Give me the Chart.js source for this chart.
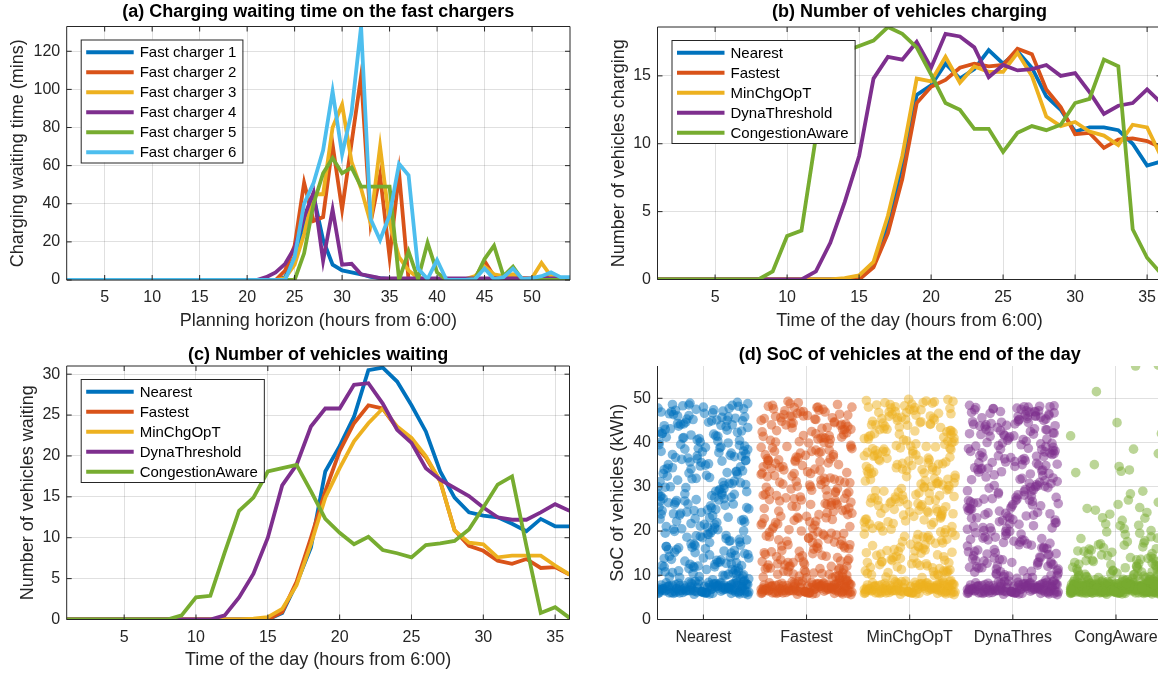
<!DOCTYPE html>
<html>
<head>
<meta charset="utf-8">
<script src="https://cdn.jsdelivr.net/npm/chart.js@4.4.1/dist/chart.umd.min.js"></script>
<style>
html, body { margin: 0; padding: 0; background: #fff; overflow: hidden; width: 1158px; height: 675px; }
.panel { position: absolute; }
</style>
</head>
<body>
<div class="panel" style="left:0;top:0"><canvas id="chartA" width="580" height="335"></canvas></div>
<div class="panel" style="left:580px;top:0"><canvas id="chartB" width="600" height="335"></canvas></div>
<div class="panel" style="left:0;top:335px"><canvas id="chartC" width="580" height="340"></canvas></div>
<div class="panel" style="left:580px;top:335px"><canvas id="chartD" width="600" height="340"></canvas></div>
<script>
// ---- data ----
const horizon = [1,2,3,4,5,6,7,8,9,10,11,12,13,14,15,16,17,18,19,20,21,22,23,24,25,26,27,28,29,30,31,32,33,34,35,36,37,38,39,40,41,42,43,44,45,46,47,48,49,50,51,52,53,54];
const dayHours = [1,2,3,4,5,6,7,8,9,10,11,12,13,14,15,16,17,18,19,20,21,22,23,24,25,26,27,28,29,30,31,32,33,34,35,36];
const horizonTicks = [5,10,15,20,25,30,35,40,45,50];
const dayTicks = [5,10,15,20,25,30,35];

// (a) waiting time on each fast charger (mins)
const charger1 = [0,0,0,0,0,0,0,0,0,0,0,0,0,0,0,0,0,0,0,0,0,0,0,1.5,12,30,44,21,8,5,4,3,1.7,1,0.6,0.5,0.4,0.4,0.4,0.4,0.4,0.4,0.4,0.4,0.4,0.4,0.4,0.4,0.4,0.4,0.4,0.4,0.4,0.4];
const charger2 = [0,0,0,0,0,0,0,0,0,0,0,0,0,0,0,0,0,0,0,0,0,0,0,5,18,51,31,33,71,37,72,107,30,55,12,56,0,1,0.5,0.5,0.5,0.5,0.5,1,10,2,1,1,0.5,0.5,1,2,0,0];
const charger3 = [0,0,0,0,0,0,0,0,0,0,0,0,0,0,0,0,0,0,0,0,0,0,0,1,8,24,45,45,80,92,62,48,30,70,30,12,5,1,0,0,0,0,0.5,2,7,3,2,3,1,1,9,2,0.5,0];
const charger4 = [0,0,0,0,0,0,0,0,0,0,0,0,0,0,0,0,0,0,0,0,0,1.5,4,8.5,17,33,46,10,37,8,8.5,3,2,1,0.8,0.8,0.8,0.8,0.8,0.8,0.8,0.8,0.8,0.8,0.8,0.8,0.8,0.8,0.8,0.8,0.8,0.8,0.8,0.8];
const charger5 = [0,0,0,0,0,0,0,0,0,0,0,0,0,0,0,0,0,0,0,0,0,0,0,0,0,14,40,56,64,56,59,49,49,49,49,0,15,0.5,19.5,4,0,0,0,0.5,11,18,2,7,0,0,0,0,0,0];
const charger6 = [0,0,0,0,0,0,0,0,0,0,0,0,0,0,0,0,0,0,0,0,0,0,0,0,12,40,51,68,99,66,88,133,32,21,34,61,55,6,0.5,10.5,0,0,0,0.5,6,0.5,1.5,6,0.5,1,2,4,1.5,1.5];

// (b) vehicles charging
const chargingNearest = [0,0,0,0,0,0,0,0,0,0,0,0,0,0,0,1.0,4.0,8.5,13.6,14.3,15.9,14.8,15.5,16.9,15.9,16.8,15.6,13.5,12.5,10.9,11.2,11.2,11.0,10.0,8.4,8.7];
const chargingFastest = [0,0,0,0,0,0,0,0,0,0,0,0,0,0,0,0.9,3.4,7.4,13.0,14.2,14.7,15.6,15.9,15.7,15.8,17.0,16.6,14.0,12.7,10.7,10.8,9.7,10.3,10.4,10.2,9.7];
const chargingMinChg = [0,0,0,0,0,0,0,0,0,0,0,0,0,0.1,0.3,1.3,4.7,9.1,14.8,14.6,16.4,14.5,15.7,15.3,15.3,16.7,15.0,12.0,11.3,11.6,10.9,10.6,9.9,11.4,11.2,9.0];
const chargingDyna = [0,0,0,0,0,0,0,0,0,0,0,0.6,2.7,5.7,9.1,14.8,16.4,16.2,17.5,15.6,18.1,17.9,17.1,14.9,15.8,15.4,15.5,15.8,15.0,15.2,13.8,12.2,12.8,13.0,14.0,13.0];
const chargingCong = [0,0,0,0,0,0,0,0,0.6,3.2,3.6,10.5,15.5,16.8,17.2,17.6,18.6,18.1,17.1,15.1,13.0,12.5,11.1,11.1,9.4,10.8,11.3,11.0,11.4,13.0,13.3,16.2,15.7,3.7,1.6,0.4];

// (c) vehicles waiting
const waitingNearest = [0,0,0,0,0,0,0,0,0,0,0,0,0,0,0,0.8,4.4,8.8,18.1,21.2,24.8,30.5,30.8,29.1,26.2,23.0,18.1,14.9,13.1,12.7,12.5,11.7,10.8,12.3,11.4,11.4];
const waitingFastest = [0,0,0,0,0,0,0,0,0,0,0,0,0,0,0,0.9,4.6,10.0,15.7,20.6,24.0,26.2,25.8,23.4,21.8,19.8,16.9,10.9,9.0,8.4,7.2,6.8,7.4,6.3,6.4,5.5];
const waitingMinChg = [0,0,0,0,0,0,0,0,0,0,0,0,0,0.1,0.3,1.3,4.2,9.2,14.9,18.5,21.8,24.0,25.8,23.6,22.2,20.0,16.9,10.9,9.4,9.2,7.6,7.8,7.8,7.8,6.6,5.5];
const waitingDyna = [0,0,0,0,0,0,0,0,0,0,0,0.5,2.7,5.6,10.0,16.4,18.9,23.6,25.8,25.8,28.7,28.9,26.4,23.2,21.6,18.5,17.1,16.1,15.1,13.7,12.5,12.2,12.2,13.1,14.1,13.3];
const waitingCong = [0,0,0,0,0,0,0,0,0.5,2.7,2.9,8.2,13.3,14.9,18.1,18.5,18.9,15.7,12.3,10.6,9.2,10.1,8.5,8.1,7.6,9.1,9.3,9.6,11.0,13.7,16.5,17.5,9.0,0.8,1.5,0.2];

// (d) end-of-day SoC (kWh), one value per vehicle, spread sideways by jitter
const strategies = ['Nearest', 'Fastest', 'MinChgOpT', 'DynaThres', 'CongAware'];
const jitter = [
 -0.31,0.12,0.40,-0.05,0.27,-0.42,0.08,-0.19,0.35,-0.27,0.02,0.19,-0.37,0.31,-0.11,0.44,-0.23,0.06,0.24,-0.40,
 0.15,-0.08,0.38,-0.33,0.29,-0.15,0.01,0.42,-0.26,0.10,-0.44,0.21,-0.02,0.33,-0.35,0.17,-0.20,0.04,0.36,-0.12,
 -0.39,0.25,-0.06,0.14,-0.29,0.41,-0.17,0.07,0.30,-0.43,0.20,-0.10,0.37,-0.24,0.03,-0.34,0.26,-0.01,0.43,-0.21,
 0.09,-0.36,0.32,-0.13,0.22,-0.41,0.16,-0.04,0.39,-0.28,0.05,-0.18,0.28,-0.38,0.11,0.34,-0.25,0.00,0.23,-0.09,
 0.41,-0.30,0.18,-0.16,0.36,-0.03,0.13,-0.44,0.26,-0.22,0.07,0.44,-0.32,0.20,-0.07,0.30,-0.40,0.11,-0.14,0.37,
 -0.26,0.03,0.33,-0.37,0.14,-0.09,0.42,-0.19,0.24,-0.01,0.39,-0.42,0.06,-0.27,0.29,-0.12,0.17,-0.35,0.09,0.40,
 -0.17,0.27,-0.43,0.12,-0.06,0.35,-0.30,0.21,-0.14,0.01,0.38,-0.24,0.16,-0.39,0.31,-0.04,0.08,-0.33,0.43,-0.11,
 0.22,-0.28,0.05,0.34,-0.41,0.19,-0.08,0.40,-0.18,0.28,-0.36,0.13,-0.02,0.37,-0.23,0.10,-0.44,0.25,-0.13,0.32,
 -0.05,0.43,-0.34,0.18,-0.21,0.06,0.31,-0.40,0.15,-0.10,0.26,-0.29,0.39,-0.16,0.02,-0.38,0.35,-0.07,0.20,-0.25,
 0.36,-0.12,0.09,-0.43,0.24,-0.31,0.41,-0.03,0.17,-0.37,0.30,-0.20,0.04,0.38,-0.26,0.14,-0.08,0.27,-0.42,0.11];
const jitterB = [
 0.05,-0.38,0.27,-0.14,0.41,-0.22,0.10,-0.33,0.19,-0.03,0.36,-0.42,0.23,-0.09,0.32,-0.27,0.14,-0.18,0.43,-0.36,
 -0.12,0.30,-0.40,0.08,0.24,-0.29,0.39,-0.06,0.16,-0.44,0.28,-0.16,0.02,0.35,-0.24,0.12,-0.31,0.42,-0.02,0.21,
 0.38,-0.20,0.06,-0.35,0.31,-0.10,0.18,-0.41,0.26,0.00,-0.28,0.40,-0.15,0.11,-0.37,0.29,-0.07,0.22,-0.43,0.15,
 -0.25,0.13,0.44,-0.30,0.04,-0.17,0.34,-0.39,0.20,-0.08,0.37,-0.23,0.09,-0.34,0.25,-0.01,0.41,-0.13,0.17,-0.40,
 0.27,-0.05,-0.32,0.19,0.43,-0.26,0.07,-0.14,0.33,-0.38,0.12,0.40,-0.21,0.03,-0.42,0.24,-0.11,0.36,-0.29,0.08,
 -0.18,0.35,0.01,-0.41,0.22,-0.06,0.30,-0.33,0.15,0.42,-0.24,0.06,-0.37,0.28,-0.12,0.18,-0.44,0.33,-0.03,0.23,
 0.11,-0.27,0.39,-0.10,-0.36,0.25,-0.19,0.04,0.32,-0.43,0.20,-0.07,0.44,-0.30,0.14,-0.22,0.37,-0.15,0.02,-0.34];
const bandSoc = [
 6.1,7.4,6.6,8.0,5.9,7.1,6.8,7.7,6.3,7.9,6.0,7.2,6.5,8.2,6.9,6.2,7.6,5.8,7.0,6.7,
 7.8,6.4,7.3,6.0,8.1,6.6,7.5,6.2,6.9,7.9,5.9,7.0,6.3,7.7,6.8,8.3,6.1,7.2,6.5,7.4,
 6.9,7.6,6.2,7.1,5.9,8.0,6.4,7.3,6.7,6.0,7.8,6.5,7.0,8.2,6.1,7.5,6.8,6.3,7.9,6.6];
const bandSoc2 = [
 7.0,6.0,8.4,6.5,7.6,5.7,8.0,6.9,7.3,6.2,8.6,6.7,7.8,6.1,7.1,8.3,6.4,7.5,5.9,8.8,
 6.6,7.9,6.3,8.1,7.2,5.8,7.7,6.8,8.5,6.0,7.4,6.5,8.2,7.0,6.2,8.7,6.9,7.6,5.6,8.0,
 7.3,6.4,8.4,6.1,7.8,6.7,8.6,5.9,7.1,6.6,8.3,7.5,6.3,7.9,6.0,8.1,6.8,7.2,6.5,8.9];
const socNearest = [
 23.5,41.2,12.8,35.6,18.3,46.9,29.4,9.7,38.1,15.2,44.6,26.8,11.3,33.9,20.7,48.2,31.5,13.9,42.8,24.6,
 37.4,10.6,28.2,45.3,16.8,34.7,21.9,47.8,14.1,39.6,25.7,9.2,43.1,30.3,18.9,36.8,12.2,27.6,46.1,22.4,
 15.8,32.6,49.1,19.5,40.3,11.8,28.9,44.2,23.1,37.9,10.1,31.2,17.4,47.3,26.1,41.7,13.5,34.2,20.2,45.8,
 29.8,12.6,42.4,24.9,36.3,18.1,48.6,9.9,33.1,21.5,44.9,16.2,38.8,27.3,11.1,40.9,25.2,46.5,14.7,31.8,
 43.6,19.9,35.2,10.9,27.9,47.1,22.8,39.2,13.2,30.7,16.5,45.1,24.2,36.9,9.5,41.9,28.5,17.7,48.9,33.4,
 12.1,38.4,26.4,45.7,20.5,32.1,14.5,42.1,29.1,10.4,37.1,23.9,47.6,18.6,34.9,11.9,40.5,27.1,15.5,44.3,
 30.9,17.1,46.7,25.4,39.9,13.6,35.9,21.1,43.9,10.8,28.3,48.3,19.3,33.6,22.2,41.4,15.1,37.6,26.7,12.4];
const socNearest2 = [
 19.2,43.8,27.6,11.5,36.0,24.0,47.4,14.3,31.0,40.1,9.3,22.7,45.0,17.0,33.5,26.5,12.9,38.5,48.8,21.0,
 34.0,15.6,42.0,28.0,10.2,46.3,20.0,37.0,13.0,30.0,44.0,24.3,16.0,39.4,11.0,29.0,47.0,18.0,35.5,25.8,
 9.8,41.0,23.0,32.4,45.5,12.0,28.6,38.0,17.8,48.0,26.0,14.9,36.5,21.5,43.0,10.5,31.9,19.0,40.0,27.0,
 46.0,13.4,25.0,37.3,20.9,44.6,11.6,33.0,29.6,16.7,42.6,23.6,9.0,35.0,47.7,18.5,30.5,12.5,39.0,24.6,
 15.0,38.7,30.0,10.0,43.4,26.9,19.6,48.5,32.8,13.8,41.5,22.0,36.2,11.3,27.8,45.8,16.3,34.5,20.4,44.9,
 28.4,17.5,46.6,23.8,12.7,40.6,31.3,9.6,37.7,25.3,43.7,14.6,29.9,48.4,21.7,35.8,10.7,42.3,18.8,33.2,
 11.9,36.6,22.6,45.2,16.5,30.8,41.1,24.8,10.3,39.5,27.3,47.5,13.9,34.3,20.3,44.1,12.2,26.1,38.9,15.8];
const socFastest = [
 45.2,18.7,31.4,10.3,39.8,25.1,47.5,14.4,33.2,21.6,42.5,12.9,28.7,36.4,16.1,44.1,23.3,9.4,40.7,30.1,
 13.7,35.3,26.2,48.8,19.4,41.6,11.5,32.8,24.4,46.3,15.9,38.6,20.9,43.4,9.8,29.6,37.2,17.2,45.9,27.4,
 34.4,22.1,43.8,12.3,30.5,46.6,16.9,39.1,25.8,10.7,42.2,28.1,14.9,36.1,19.1,47.9,31.9,11.6,38.3,23.7,
 20.3,44.7,13.1,37.7,27.7,9.6,40.1,18.2,32.4,46.1,24.8,15.6,41.1,29.9,11.2,34.8,21.3,48.4,26.5,35.7,
 41.5,10.2,29.2,17.8,45.4,23.0,36.6,13.3,49.3,26.9,19.7,33.7,12.5,42.9,30.6,16.4,38.9,22.6,44.4,9.3,
 27.0,39.4,15.3,31.1,47.2,20.6,35.0,11.4,43.2,25.5,37.3,14.2,28.4,46.0,18.4,32.3,10.5,40.2,24.1,45.6,
 16.6,33.0,42.0,21.8,12.0,38.0,28.8,47.0,19.0,36.0,14.0,44.0,26.0,9.0,31.0,41.0,22.9,17.5,34.5,48.0];
const socFastest2 = [
 38.0,11.7,44.5,25.6,16.0,33.8,47.9,20.5,29.3,13.0,41.8,9.6,36.3,23.1,46.4,18.0,31.5,10.8,43.0,27.1,
 22.4,48.6,14.7,34.0,26.4,42.7,10.0,37.6,19.3,45.0,28.9,12.1,39.9,24.6,16.6,47.3,32.5,21.0,11.1,35.4,
 44.2,27.5,17.4,40.5,9.9,31.2,46.9,15.1,36.8,23.3,12.6,43.6,29.5,19.8,48.2,26.3,14.0,38.3,33.1,10.4,
 13.5,35.7,24.0,45.9,30.0,11.9,41.2,18.9,27.9,49.0,16.2,34.6,22.2,44.0,9.4,37.1,25.2,12.9,40.0,28.3,
 31.7,20.0,47.6,14.3,39.0,26.8,10.5,43.3,17.0,35.1,23.7,46.2,12.3,30.4,41.4,19.5,36.0,11.3,28.0,45.3,
 16.9,42.9,33.4,22.8,10.2,47.0,25.9,38.8,14.5,30.9,44.8,19.0,35.9,9.7,27.3,41.0,21.4,13.2,46.0,32.0,
 40.8,24.5,12.0,36.7,29.0,45.6,17.7,33.0,11.5,42.4,26.0,15.4,48.0,21.9,37.9,10.9,31.0,44.3,18.4,34.1];
const socMinChg = [
 28.6,44.8,17.3,39.3,11.7,33.5,49.4,22.3,36.7,14.8,42.6,26.6,10.0,31.6,47.4,19.6,38.5,24.3,45.5,13.8,
 40.0,21.2,35.4,9.1,29.3,46.8,16.0,37.0,25.0,43.0,12.7,32.0,48.5,18.0,34.0,23.2,41.3,15.0,27.2,49.7,
 20.0,37.5,11.0,44.0,30.0,16.3,42.3,26.3,9.9,35.8,47.7,22.7,39.7,13.0,28.0,45.0,18.5,33.3,24.7,41.8,
 46.4,14.6,31.3,25.9,40.6,10.9,36.2,21.4,48.1,17.0,29.5,43.7,12.6,34.1,23.8,45.2,19.2,38.2,27.8,15.4,
 33.8,24.0,47.9,13.4,37.8,28.5,11.3,42.7,20.4,35.1,16.7,49.0,26.0,31.7,9.6,44.5,22.0,39.0,14.3,30.4,
 18.8,41.0,27.5,36.5,10.6,46.2,23.5,32.9,15.7,43.5,30.8,12.4,38.7,21.7,48.7,26.4,35.6,17.6,44.1,29.0,
 42.4,11.9,36.0,20.8,49.2,27.0,15.2,40.4,24.5,33.0,19.8,46.9,13.9,30.2,38.0,22.5,45.7,10.2,34.6,25.6];
const socMinChg2 = [
 15.5,41.6,30.7,47.0,21.0,36.4,12.2,44.0,26.9,33.7,18.1,49.5,10.8,38.8,24.6,45.4,29.8,13.6,40.2,20.6,
 35.0,22.9,48.0,16.6,31.9,42.9,11.2,27.1,39.1,19.3,46.6,14.0,34.8,25.5,49.0,9.5,37.4,23.9,43.9,30.1,
 12.8,45.9,28.2,36.9,17.9,41.9,24.2,10.4,33.6,47.5,20.9,38.4,15.8,44.7,27.4,11.5,35.3,48.9,22.6,31.4,
 43.1,18.7,32.6,25.7,47.3,13.3,39.6,21.6,46.0,29.6,10.9,37.9,16.4,42.0,27.0,49.8,19.7,34.3,12.1,40.8,
 24.4,48.3,14.5,36.1,30.9,44.4,18.2,27.7,41.2,11.8,33.9,46.5,22.1,38.1,15.1,45.1,28.8,10.6,35.9,26.2,
 47.8,20.3,39.2,12.9,34.4,23.6,43.4,29.1,16.9,49.3,25.1,37.2,10.1,31.1,45.6,18.9,40.9,14.2,32.3,21.9,
 30.6,13.1,42.7,26.6,38.6,17.2,48.6,23.3,35.2,11.0,44.2,28.0,19.0,46.8,33.1,15.6,40.3,24.9,12.6,37.1];
const socDyna = [
 35.0,13.3,42.9,24.5,46.0,18.1,30.8,9.8,38.9,27.2,44.8,15.8,33.6,21.0,48.1,12.0,40.0,26.0,36.9,17.4,
 22.5,45.6,29.0,11.4,37.6,19.9,47.2,25.3,14.1,41.4,31.7,10.5,43.7,23.6,35.6,16.3,46.8,28.1,39.3,13.0,
 44.0,27.6,16.0,34.3,9.4,41.9,21.9,47.6,30.2,12.9,38.2,25.0,45.1,18.7,32.5,10.8,42.5,23.0,36.1,48.3,
 15.1,39.7,26.9,46.3,20.6,33.0,11.7,43.1,28.7,17.7,37.3,24.1,46.9,13.7,31.4,41.0,19.3,35.4,9.9,44.6,
 30.0,20.1,45.9,14.6,38.0,26.7,10.1,42.1,32.7,18.3,47.9,23.4,36.6,12.6,29.7,40.7,16.6,34.9,22.1,45.3,
 40.5,11.1,33.9,27.9,44.3,16.9,37.9,24.9,48.0,13.5,31.0,20.8,42.2,10.4,35.7,26.3,46.4,19.0,29.3,14.8,
 23.9,47.0,18.0,38.6,12.3,34.0,43.8,21.6,29.9,15.4,45.0,27.3,9.3,39.8,32.2,17.1,41.6,25.7,11.8,36.4];
const socDyna2 = [
 28.2,44.1,14.0,37.0,21.8,46.6,11.0,33.3,25.9,41.3,17.2,48.4,30.5,9.7,39.1,23.7,45.4,13.9,35.1,19.6,
 42.7,16.1,31.6,47.5,24.2,36.7,12.4,43.9,27.0,20.4,38.4,10.2,34.6,46.1,18.0,29.4,41.8,14.9,25.2,47.0,
 20.7,35.5,45.2,11.9,30.1,39.9,16.8,26.6,48.2,22.6,13.2,37.5,43.4,28.9,10.7,33.8,19.9,46.9,24.6,38.7,
 12.7,40.3,26.2,34.1,47.8,18.6,29.8,44.7,21.2,36.3,10.0,42.6,31.9,15.7,47.2,25.6,38.1,13.6,32.9,22.9,
 45.7,23.3,37.1,9.5,31.2,43.0,17.5,28.4,40.8,14.4,35.9,46.7,20.0,26.9,42.0,12.8,33.4,48.1,18.4,39.5,
 30.3,14.7,41.5,25.0,46.0,19.4,36.8,11.6,44.5,27.6,34.2,21.5,47.4,16.2,38.5,10.9,29.1,42.9,23.0,35.3,
 17.9,43.6,32.0,22.4,39.2,13.0,47.7,27.2,34.8,15.3,41.9,24.0,11.4,37.7,45.9,20.7,30.7,12.1,44.2,26.4];
const socCong = [
 7.2,12.5,6.4,8.8,21.3,6.9,7.6,15.2,6.1,9.6,33.5,7.9,6.6,11.4,7.3,18.7,6.2,8.1,25.3,6.8,
 57.5,7.5,10.2,6.3,13.8,7.0,8.5,6.0,16.4,7.7,9.1,42.0,6.5,12.1,7.4,24.2,6.9,8.3,14.6,6.2,
 7.8,34.6,6.7,10.9,7.1,19.8,6.4,51.5,8.6,7.3,13.1,6.1,22.4,7.6,9.4,6.8,38.5,7.2,11.7,6.5,
 16.9,6.3,8.0,27.0,7.0,12.8,6.6,9.9,7.7,44.5,6.2,15.7,7.4,33.2,8.4,6.9,20.5,7.1,10.6,6.0,
 7.5,25.1,6.8,14.2,7.9,57.3,6.4,11.2,8.2,17.8,7.2,33.8,6.5,9.2,13.4,7.6,41.5,6.1,23.0,7.3,
 10.4,6.7,18.3,7.0,35.0,8.7,6.3,12.9,7.8,21.6,6.9,9.7,16.0,7.4,26.0,6.2,14.9,8.0,11.9,6.6,
 8.9,7.1,19.2,6.4,13.6,7.7,37.5,6.8,10.1,15.5,7.3,24.7,6.0,12.3,8.3,28.4,7.5,17.3,6.9,9.0];
const socCong2 = [
 6.5,7.9,9.8,6.2,7.3,13.1,6.8,8.4,6.0,11.0,7.1,6.6,19.5,7.7,6.3,8.9,14.0,7.0,6.9,10.3,
 7.4,6.1,8.2,16.8,6.7,7.6,12.0,6.4,9.3,7.2,22.9,6.0,8.0,10.8,6.8,7.5,15.4,6.3,7.9,11.6,
 6.6,9.0,7.3,6.2,13.8,7.8,6.9,8.6,29.0,6.4,7.1,10.0,6.7,17.6,7.4,6.1,8.3,12.6,7.0,6.5,
 8.1,6.8,11.3,7.5,6.2,9.5,20.1,7.2,6.6,14.4,7.8,6.0,8.8,6.9,10.7,7.3,26.5,6.4,7.7,9.1,
 6.3,12.4,7.0,6.7,8.5,15.9,7.6,6.1,9.7,7.2,6.8,18.4,7.9,6.4,11.8,7.4,6.6,8.7,13.3,6.2,
 7.1,6.5,10.5,7.8,6.0,23.8,7.3,8.1,6.9,12.2,6.3,7.6,9.4,6.7,16.2,7.0,6.4,8.9,11.1,7.5,
 6.8,14.8,7.2,6.1,9.9,7.7,6.5,21.2,8.4,6.9,13.5,7.4,6.2,10.2,7.9,6.6,8.0,17.1,7.1,6.3];

// ---- styling ----
const FONT = "'Liberation Sans', Arial, Helvetica, sans-serif";
const INK = '#262626';
const GRID = 'rgba(38,38,38,0.14)';
const C = { blue: '#0072BD', orange: '#D95319', yellow: '#EDB120', purple: '#7E2F8E', green: '#77AC30', cyan: '#4DBEEE' };
Chart.defaults.font.family = FONT;
Chart.defaults.color = INK;

// MATLAB-like axes box with inward ticks
const framePlugin = {
  id: 'frame',
  afterDatasetsDraw(chart, args, opts) {
    const { ctx, chartArea: a, scales } = chart;
    const tl = 5;
    ctx.save();
    ctx.strokeStyle = INK;
    ctx.lineWidth = 1;
    ctx.beginPath();
    if (opts.box) {
      ctx.rect(a.left, a.top, a.right - a.left, a.bottom - a.top);
    } else {
      ctx.moveTo(a.left, a.top);
      ctx.lineTo(a.left, a.bottom);
      ctx.lineTo(a.right, a.bottom);
    }
    scales.x.ticks.forEach(t => {
      const px = scales.x.getPixelForValue(t.value);
      ctx.moveTo(px, a.bottom); ctx.lineTo(px, a.bottom - tl);
      if (opts.box) { ctx.moveTo(px, a.top); ctx.lineTo(px, a.top + tl); }
    });
    scales.y.ticks.forEach(t => {
      const py = scales.y.getPixelForValue(t.value);
      ctx.moveTo(a.left, py); ctx.lineTo(a.left + tl, py);
      if (opts.box) { ctx.moveTo(a.right, py); ctx.lineTo(a.right - tl, py); }
    });
    ctx.stroke();
    ctx.restore();
  }
};

// boxed legend in the top-left corner of the plot area
const legendPlugin = {
  id: 'boxLegend',
  afterDraw(chart, args, opts) {
    if (!opts.show) return;
    const { ctx, chartArea } = chart;
    const sets = chart.data.datasets;
    ctx.save();
    ctx.font = '15px ' + FONT;
    const textW = Math.max(...sets.map(d => ctx.measureText(d.label).width));
    const left = chartArea.left + 14, top = chartArea.top + 13;
    const w = 59 + textW + 6, h = 23 + 20 * (sets.length - 1);
    ctx.fillStyle = '#fff';
    ctx.fillRect(left, top, w, h);
    ctx.strokeStyle = INK;
    ctx.lineWidth = 1;
    ctx.strokeRect(left + 0.5, top + 0.5, w, h);
    sets.forEach((d, i) => {
      const y = top + 12.7 + 20 * i;
      ctx.strokeStyle = d.borderColor;
      ctx.lineWidth = 4;
      ctx.beginPath();
      ctx.moveTo(left + 5.5, y);
      ctx.lineTo(left + 53, y);
      ctx.stroke();
      ctx.fillStyle = '#000';
      ctx.textBaseline = 'middle';
      ctx.fillText(d.label, left + 59, y + 1);
    });
    ctx.restore();
  }
};

function axis(cfg) {
  return {
    type: 'linear',
    min: cfg.min,
    max: cfg.max,
    afterBuildTicks: s => { s.ticks = cfg.ticks.map(v => ({ value: v })); },
    afterFit: cfg.fit,
    grid: { color: GRID, drawTicks: false },
    border: { display: false },
    ticks: { font: { size: 16 }, color: INK, padding: cfg.pad, callback: cfg.label },
    title: {
      display: !!cfg.title, text: cfg.title, color: INK,
      font: { size: 18 }, padding: cfg.titlePad
    }
  };
}

function linePanel(id, cfg) {
  return new Chart(document.getElementById(id), {
    type: 'line',
    data: {
      labels: cfg.xs,
      datasets: cfg.series.map((s, i) => ({
        label: s[0], data: s[1], borderColor: s[2], backgroundColor: s[2],
        borderWidth: 3.8, pointRadius: 0, tension: 0, order: -i
      }))
    },
    options: {
      responsive: false,
      animation: false,
      layout: { padding: { right: cfg.padRight, left: 0, top: 0, bottom: 0 } },
      plugins: {
        legend: { display: false },
        tooltip: { enabled: false },
        title: {
          display: true, text: cfg.title, fullSize: false, color: '#000',
          font: { size: 18, weight: 'bold' }, padding: cfg.titlePad
        },
        boxLegend: { show: true },
        frame: { box: true }
      },
      scales: {
        x: axis({ min: cfg.xMin, max: cfg.xMax, ticks: cfg.xTicks, pad: 8,
                  fit: s => { s.height = cfg.xAxisH; },
                  title: cfg.xTitle, titlePad: { top: 0, bottom: cfg.xTitlePad } }),
        y: axis({ min: 0, max: cfg.yMax, ticks: cfg.yTicks, pad: 6.5,
                  fit: s => { s.width = cfg.yAxisW; },
                  title: cfg.yTitle, titlePad: { top: cfg.yTitlePad, bottom: 0 } })
      }
    },
    plugins: [framePlugin, legendPlugin]
  });
}

linePanel('chartA', {
  xs: horizon, xMin: 1, xMax: 54, xTicks: horizonTicks,
  yMax: 133, yTicks: [0, 20, 40, 60, 80, 100, 120],
  title: '(a) Charging waiting time on the fast chargers', titlePad: { top: 1.7, bottom: 3.2 },
  xTitle: 'Planning horizon (hours from 6:00)', xTitlePad: 3.2, xAxisH: 55,
  yTitle: 'Charging waiting time (mins)', yTitlePad: 7.2, yAxisW: 66.7, padRight: 10,
  series: [
    ['Fast charger 1', charger1, C.blue],
    ['Fast charger 2', charger2, C.orange],
    ['Fast charger 3', charger3, C.yellow],
    ['Fast charger 4', charger4, C.purple],
    ['Fast charger 5', charger5, C.green],
    ['Fast charger 6', charger6, C.cyan]
  ]
});

linePanel('chartB', {
  xs: dayHours, xMin: 1, xMax: 36, xTicks: dayTicks,
  yMax: 18.6, yTicks: [0, 5, 10, 15],
  title: '(b) Number of vehicles charging', titlePad: { top: 1.7, bottom: 3.7 },
  xTitle: 'Time of the day (hours from 6:00)', xTitlePad: 3.2, xAxisH: 55.5,
  yTitle: 'Number of vehicles charging', yTitlePad: 28.2, yAxisW: 77.5, padRight: 18.5,
  series: [
    ['Nearest', chargingNearest, C.blue],
    ['Fastest', chargingFastest, C.orange],
    ['MinChgOpT', chargingMinChg, C.yellow],
    ['DynaThreshold', chargingDyna, C.purple],
    ['CongestionAware', chargingCong, C.green]
  ]
});

linePanel('chartC', {
  xs: dayHours, xMin: 1, xMax: 36, xTicks: dayTicks,
  yMax: 31, yTicks: [0, 5, 10, 15, 20, 25, 30],
  title: '(c) Number of vehicles waiting', titlePad: { top: 9.2, bottom: 0.2 },
  xTitle: 'Time of the day (hours from 6:00)', xTitlePad: 4.2, xAxisH: 55.5,
  yTitle: 'Number of vehicles waiting', yTitlePad: 17.2, yAxisW: 66.7, padRight: 10.5,
  series: [
    ['Nearest', waitingNearest, C.blue],
    ['Fastest', waitingFastest, C.orange],
    ['MinChgOpT', waitingMinChg, C.yellow],
    ['DynaThreshold', waitingDyna, C.purple],
    ['CongestionAware', waitingCong, C.green]
  ]
});

// (d) jittered scatter of SoC per strategy
const socGroups = [socNearest, socFastest, socMinChg, socDyna, socCong];
const socGroups2 = [socNearest2, socFastest2, socMinChg2, socDyna2, socCong2];
const dotColors = ['rgba(0,114,189,0.5)', 'rgba(217,83,25,0.5)', 'rgba(237,177,32,0.5)', 'rgba(126,47,142,0.5)', 'rgba(119,172,48,0.5)'];
new Chart(document.getElementById('chartD'), {
  type: 'scatter',
  data: {
    datasets: socGroups.map((g, k) => ({
      label: strategies[k],
      data: bandSoc.concat(g).map((y, i) => ({ x: k + 1 + jitter[i], y: y }))
        .concat(socGroups2[k].map((y, i) => ({ x: k + 1 + jitterB[i], y: y })))
        .concat(bandSoc2.map((y, i) => ({ x: k + 1 + jitter[i + 100], y: y }))),
      backgroundColor: dotColors[k],
      borderWidth: 0,
      pointRadius: 4.8,
      order: -k
    }))
  },
  options: {
    responsive: false,
    animation: false,
    layout: { padding: { right: 18.1, left: 0, top: 0, bottom: 0 } },
    plugins: {
      legend: { display: false },
      tooltip: { enabled: false },
      title: {
        display: true, text: '(d) SoC of vehicles at the end of the day', fullSize: false, color: '#000',
        font: { size: 18, weight: 'bold' }, padding: { top: 9.2, bottom: 0.2 }
      },
      boxLegend: { show: false },
      frame: { box: false }
    },
    scales: {
      x: axis({ min: 0.555, max: 5.445, ticks: [1, 2, 3, 4, 5], pad: 8,
                fit: s => { s.height = 55.5; },
                label: v => strategies[v - 1] }),
      y: axis({ min: 0, max: 57.3, ticks: [0, 10, 20, 30, 40, 50], pad: 6.5,
                fit: s => { s.width = 77.5; },
                title: 'SoC of vehicles (kWh)', titlePad: { top: 27.7, bottom: 0 } })
    }
  },
  plugins: [framePlugin, legendPlugin]
});
</script>
</body>
</html>
